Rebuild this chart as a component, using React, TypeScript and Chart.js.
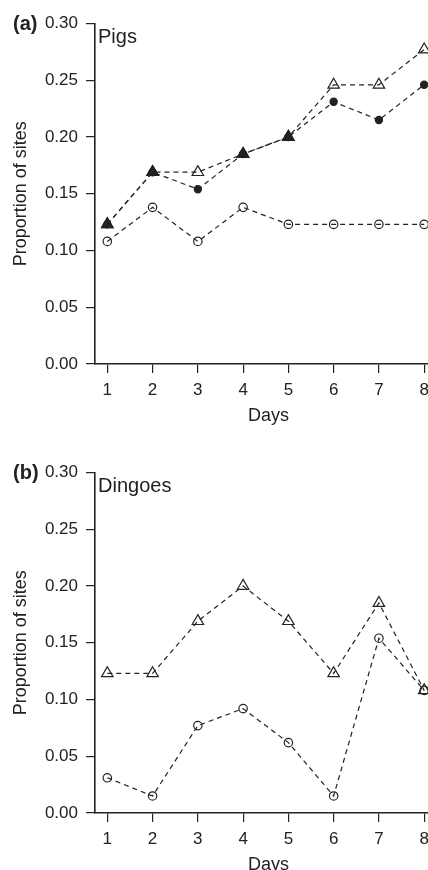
import React, { useEffect, useRef } from 'react';
import { Chart, registerables } from 'chart.js';

Chart.register(...registerables);

// ---- data ----
const days = [1, 2, 3, 4, 5, 6, 7, 8];
const yTicks = [0, 0.05, 0.1, 0.15, 0.2, 0.25, 0.3];

// Pigs (panel a)
const pigsOpenTriangle = [0.123, 0.169, 0.169, 0.185, 0.2, 0.246, 0.246, 0.277];
const pigsFilledCircle = [0.123, 0.169, 0.154, 0.185, 0.2, 0.231, 0.215, 0.246];
const pigsFilledTriangle = [0.123, 0.169, null, 0.185, 0.2, null, null, null];
const pigsOpenCircle = [0.108, 0.138, 0.108, 0.138, 0.123, 0.123, 0.123, 0.123];

// Dingoes (panel b)
const dingoesOpenTriangle = [0.123, 0.123, 0.169, 0.2, 0.169, 0.123, 0.185, 0.108];
const dingoesOpenCircle = [0.031, 0.015, 0.077, 0.092, 0.062, 0.015, 0.154, 0.108];

// ---- styling ----
const FONT = '"Liberation Sans", Arial, Helvetica, sans-serif';
const INK = '#222';
const CANVAS_W = 450;
const CANVAS_H = 432;

type Kind = 'openTri' | 'filledTri' | 'openCircle' | 'filledCircle';

interface Series {
  values: (number | null)[];
  kind: Kind;
  line: boolean;
  order: number;
}

function datasetFor(s: Series) {
  const pts = days
    .map((d, i) => ({ x: d, y: s.values[i] }))
    .filter((p) => p.y !== null);
  const isTri = s.kind === 'openTri' || s.kind === 'filledTri';
  const filled = s.kind === 'filledTri' || s.kind === 'filledCircle';
  let radius = 4.2;
  if (isTri) radius = 6.6;
  if (s.kind === 'filledCircle') radius = 3.6;
  return {
    data: pts,
    showLine: s.line,
    borderColor: INK,
    borderWidth: 1.2,
    borderDash: [5, 4],
    fill: false,
    tension: 0,
    pointStyle: isTri ? 'triangle' : 'circle',
    pointRadius: radius,
    pointHoverRadius: radius,
    pointBorderWidth: 1.2,
    pointBorderColor: INK,
    pointBackgroundColor: filled ? INK : 'rgba(0,0,0,0)',
    order: s.order,
    clip: false,
  };
}

const panelLabels = {
  id: 'panelLabels',
  afterDraw(chart: any, _args: any, opts: any) {
    const { ctx, chartArea } = chart;
    ctx.save();
    ctx.fillStyle = INK;
    ctx.textBaseline = 'alphabetic';
    ctx.textAlign = 'left';
    ctx.font = `bold 20px ${FONT}`;
    ctx.fillText(opts.tag, 13, chartArea.top + 6.5);
    ctx.font = `20px ${FONT}`;
    ctx.fillText(opts.name, chartArea.left + 3, chartArea.top + 19.5);
    ctx.restore();
  },
};

function makeConfig(tag: string, name: string, series: Series[]): any {
  const axisGrid = {
    drawOnChartArea: false,
    drawTicks: true,
    tickLength: 9,
    color: INK,
    lineWidth: 1.2,
  };
  const axisBorder = { display: true, color: INK, width: 1.6 };
  return {
    type: 'line',
    data: { datasets: series.map(datasetFor) },
    plugins: [panelLabels],
    options: {
      animation: false,
      responsive: false,
      maintainAspectRatio: false,
      devicePixelRatio: 1,
      layout: { padding: { top: 23.5, right: 0, bottom: 0, left: 0 } },
      plugins: {
        legend: { display: false },
        tooltip: { enabled: false },
        panelLabels: { tag, name },
      },
      scales: {
        x: {
          type: 'linear',
          min: 0.728,
          max: 8.398,
          afterBuildTicks: (s: any) => {
            s.ticks = days.map((v) => ({ value: v }));
          },
          afterFit: (s: any) => {
            s.height = 68;
          },
          grid: axisGrid,
          border: axisBorder,
          ticks: {
            font: { family: FONT, size: 17 },
            color: INK,
            padding: 7,
            maxRotation: 0,
            autoSkip: false,
            callback: (v: any) => String(v),
          },
          title: {
            display: true,
            text: 'Days',
            font: { family: FONT, size: 18 },
            color: INK,
            padding: { top: 0, bottom: 5 },
          },
        },
        y: {
          type: 'linear',
          min: 0,
          max: 0.3,
          afterBuildTicks: (s: any) => {
            s.ticks = yTicks.map((v) => ({ value: v }));
          },
          afterFit: (s: any) => {
            s.width = 95;
          },
          grid: axisGrid,
          border: axisBorder,
          ticks: {
            font: { family: FONT, size: 17 },
            color: INK,
            padding: 8,
            callback: (v: any) => Number(v).toFixed(2),
          },
          title: {
            display: true,
            text: 'Proportion of sites',
            font: { family: FONT, size: 18 },
            color: INK,
            padding: { top: 10, bottom: 0 },
          },
        },
      },
    },
  };
}

function Panel({ top, config }: { top: number; config: any }) {
  const ref = useRef<HTMLCanvasElement | null>(null);
  useEffect(() => {
    if (!ref.current) return;
    const chart = new Chart(ref.current, config);
    return () => chart.destroy();
  }, [config]);
  return (
    <canvas
      ref={ref}
      width={CANVAS_W}
      height={CANVAS_H}
      style={{ position: 'absolute', left: 0, top, width: CANVAS_W, height: CANVAS_H, display: 'block' }}
    />
  );
}

const pigsConfig = makeConfig('(a)', 'Pigs', [
  { values: pigsOpenCircle, kind: 'openCircle', line: true, order: 4 },
  { values: pigsOpenTriangle, kind: 'openTri', line: true, order: 3 },
  { values: pigsFilledCircle, kind: 'filledCircle', line: true, order: 2 },
  { values: pigsFilledTriangle, kind: 'filledTri', line: false, order: 1 },
]);

const dingoesConfig = makeConfig('(b)', 'Dingoes', [
  { values: dingoesOpenCircle, kind: 'openCircle', line: true, order: 2 },
  { values: dingoesOpenTriangle, kind: 'openTri', line: true, order: 1 },
]);

export default function App() {
  return (
    <div
      style={{
        position: 'absolute',
        left: 0,
        top: 0,
        width: 428,
        height: 870,
        overflow: 'hidden',
        background: '#fff',
      }}
    >
      <Panel top={0} config={pigsConfig} />
      <Panel top={448.5} config={dingoesConfig} />
    </div>
  );
}
